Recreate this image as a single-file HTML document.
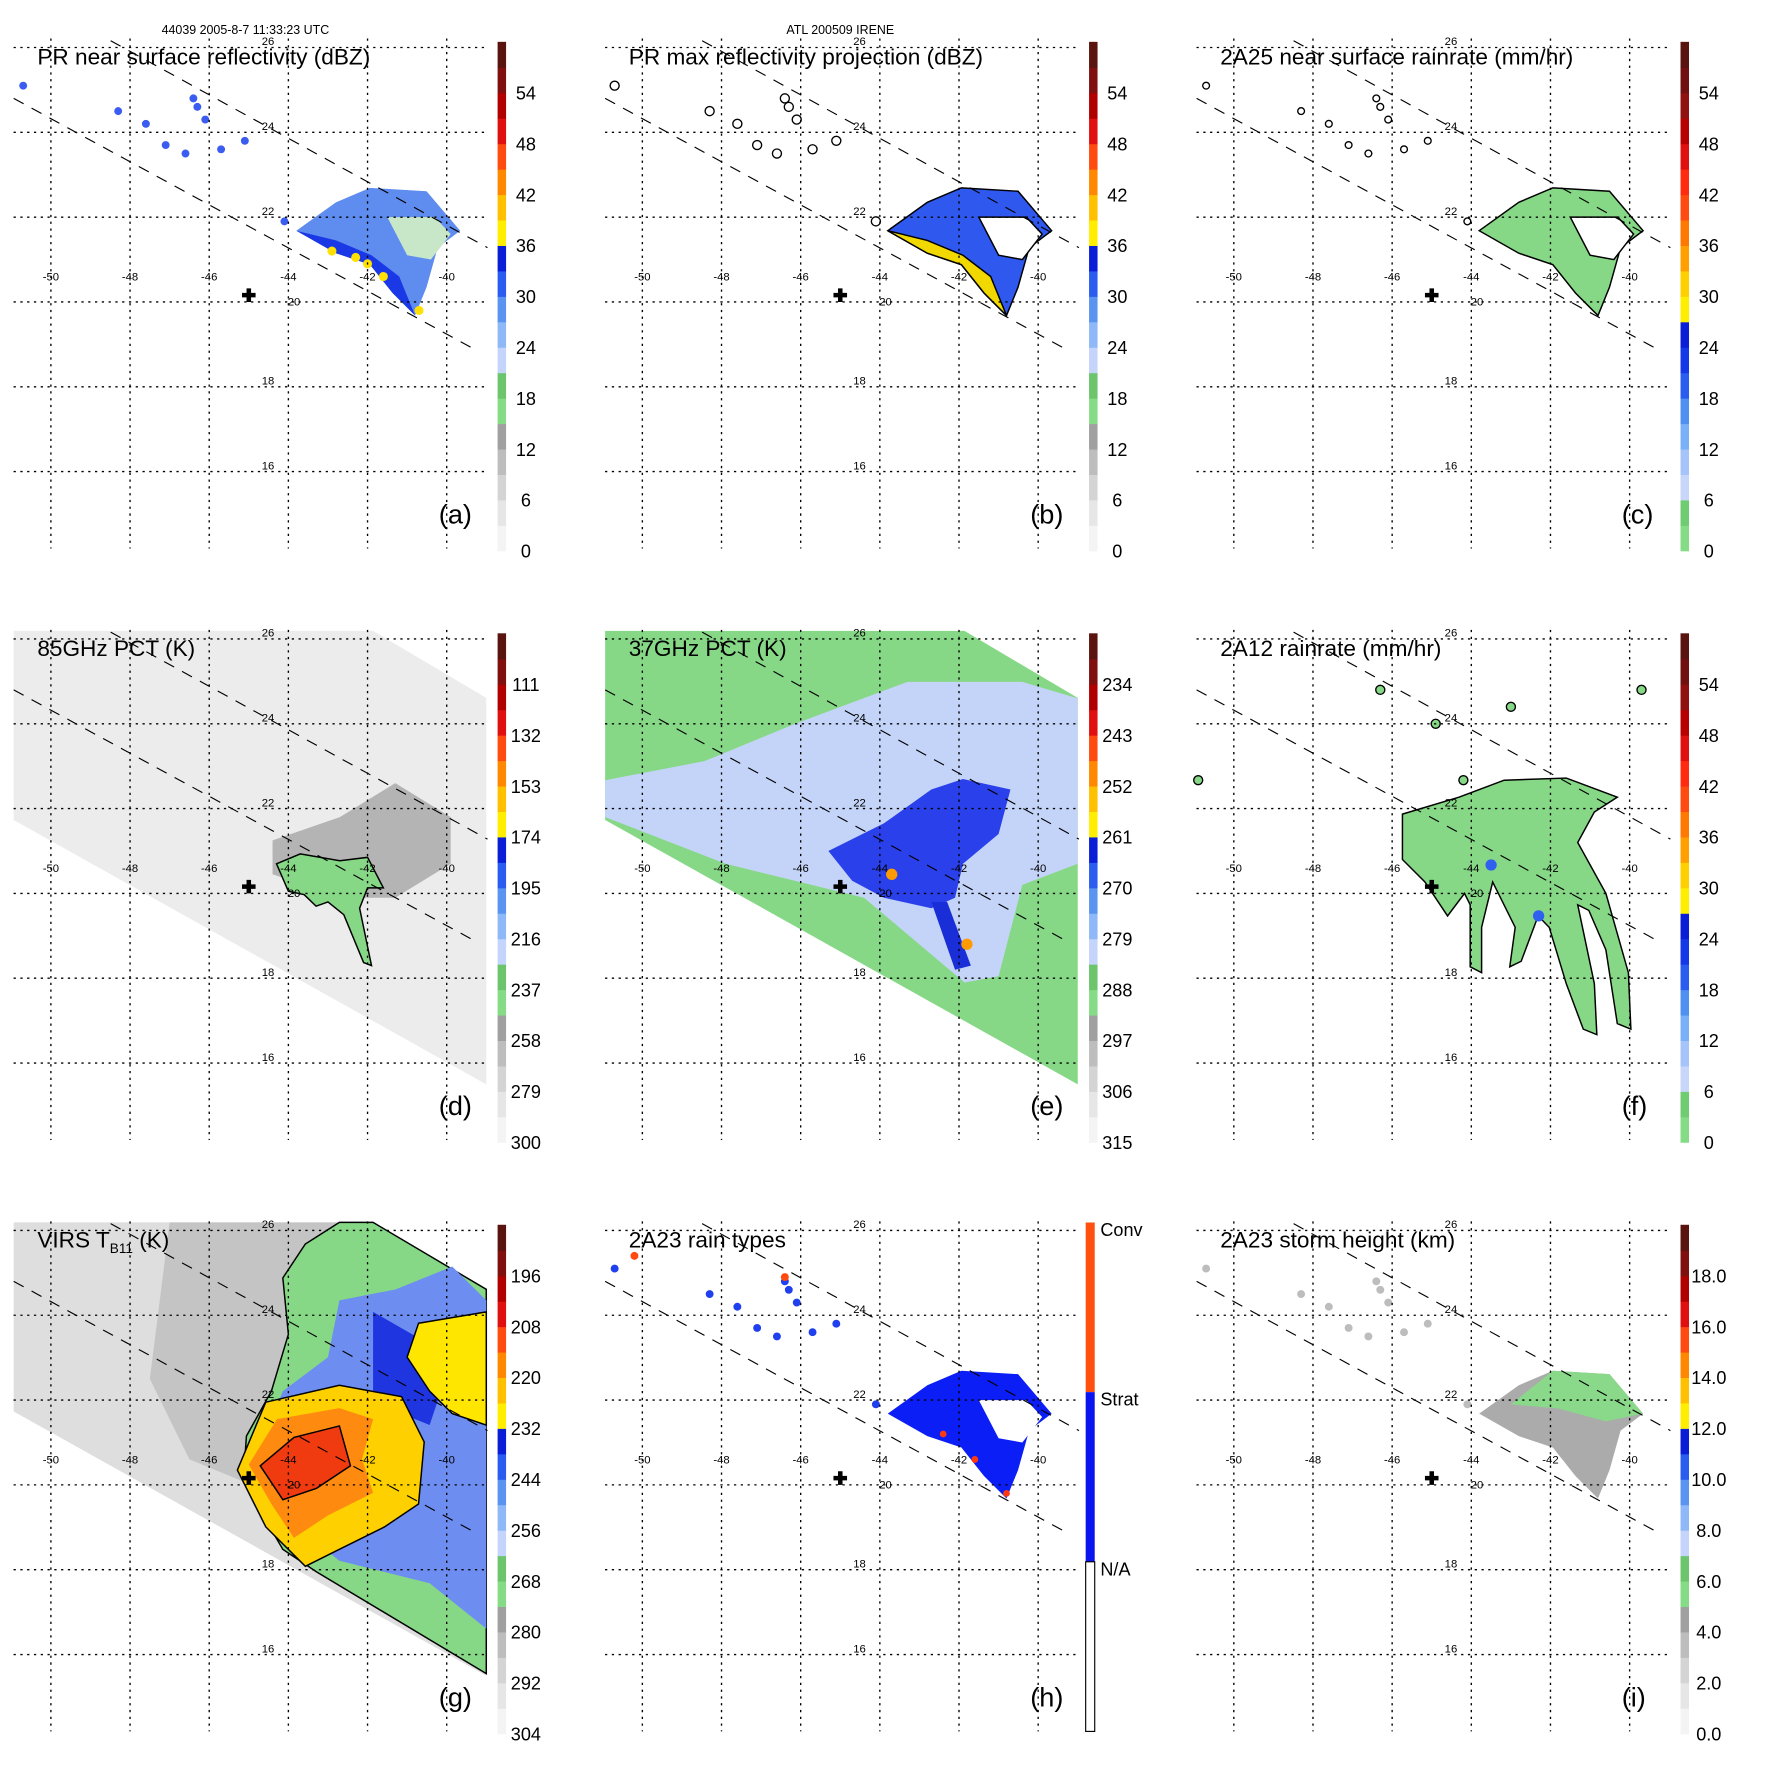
<!DOCTYPE html>
<html><head><meta charset="utf-8"><style>
html,body{margin:0;padding:0;background:#fff}
svg{display:block}
text{font-family:"Liberation Sans",sans-serif}
</style></head><body>
<svg id="fig" width="1771" height="1771" viewBox="0 0 1566 1566" xmlns="http://www.w3.org/2000/svg">
<rect width="1566" height="1566" fill="#fff"/>
<text x="217" y="30" font-size="11" text-anchor="middle">44039 2005-8-7 11:33:23 UTC</text>
<text x="743" y="30" font-size="11" text-anchor="middle">ATL 200509 IRENE</text>
</svg>
<script>
const lonTicks=[-50,-48,-46,-44,-42,-40];
const latTicks=[26,24,22,20,18,16];
const titles=["PR near surface reflectivity (dBZ)","PR max reflectivity projection (dBZ)","2A25 near surface rainrate (mm/hr)","85GHz PCT (K)","37GHz PCT (K)","2A12 rainrate (mm/hr)","VIRS T","2A23 rain types","2A23 storm height (km)"];
const letters=["(a)","(b)","(c)","(d)","(e)","(f)","(g)","(h)","(i)"];
const cbLabels=[
["0","6","12","18","24","30","36","42","48","54"],
["0","6","12","18","24","30","36","42","48","54"],
["0","6","12","18","24","30","36","42","48","54"],
["300","279","258","237","216","195","174","153","132","111"],
["315","306","297","288","279","270","261","252","243","234"],
["0","6","12","18","24","30","36","42","48","54"],
["304","292","280","268","256","244","232","220","208","196"],
null,
["0.0","2.0","4.0","6.0","8.0","10.0","12.0","14.0","16.0","18.0"]];
const stormCenter=[-45,20.16];
const swathUpper=[[-48.49,26.16],[-38.97,21.28]];
const swathLower=[[-50.94,24.8],[-39.23,18.85]];
const tmiSwath=[[-50.94,26.19],[-41.86,26.19],[-39,24.61],[-39,15.5],[-50.94,21.73]];
const blobPR=[[-43.8,21.68],[-42.8,22.35],[-41.94,22.69],[-40.51,22.61],[-39.66,21.68],[-40.23,21.28],[-40.51,20.35],[-40.8,19.68],[-41.37,20.21],[-41.94,20.88],[-42.8,21.15]];
const bandPR=[[-43.8,21.68],[-42.8,21.45],[-41.9,21.1],[-41.2,20.6],[-40.8,19.68],[-41.37,20.21],[-41.94,20.88],[-42.8,21.15]];
const holePR=[[-41.5,22.0],[-40.3,22.0],[-39.9,21.6],[-40.4,21.0],[-41.0,21.1]];
const spotsPR=[[-50.7,25.1],[-48.3,24.5],[-46.4,24.8],[-46.1,24.3],[-46.6,23.5],[-45.1,23.8],[-47.1,23.7],[-44.1,21.9],[-47.6,24.2],[-45.7,23.6],[-46.3,24.6]];
const yellowPR=[[-42.9,21.2],[-42.3,21.05],[-41.6,20.6],[-40.7,19.8],[-42.0,20.9]];
const cloud85=[[-44.4,21.25],[-42.7,21.8],[-41.3,22.6],[-39.9,21.8],[-39.9,20.7],[-41.3,19.9],[-42.7,19.9],[-44.4,20.45]];
const core85=[[-44.3,20.7],[-43.7,20.93],[-42.7,20.77],[-42.0,20.85],[-41.6,20.13],[-42.0,20.13],[-42.2,19.65],[-41.9,18.3],[-42.1,18.37],[-42.6,19.5],[-43.0,19.8],[-43.3,19.7],[-43.6,19.97],[-44.0,20.05]];
const light37=[[-50.94,22.67],[-48.43,23.12],[-46.14,24.0],[-43.3,24.99],[-40.4,24.99],[-39,24.6],[-39,20.7],[-40.4,20.2],[-41.0,18.05],[-41.86,17.9],[-44.4,19.9],[-47.9,20.7],[-50.94,21.8]];
const core37=[[-45.3,21.0],[-43.9,21.65],[-42.7,22.45],[-41.9,22.7],[-40.7,22.45],[-41.0,21.4],[-41.9,20.7],[-42.1,19.9],[-42.7,19.65],[-43.9,19.9],[-44.7,20.3]];
const streak37=[[-42.7,19.8],[-42.3,19.8],[-41.7,18.3],[-42.1,18.2]];
const rain12=[[-45.74,21.87],[-44.31,22.27],[-43.17,22.67],[-41.6,22.72],[-40.31,22.27],[-40.89,21.92],[-41.31,21.2],[-40.6,20.0],[-40.03,18.13],[-39.97,16.8],[-40.31,16.93],[-40.6,18.67],[-41.03,19.6],[-41.31,19.73],[-40.89,17.87],[-40.83,16.67],[-41.17,16.8],[-41.6,17.87],[-42.03,19.2],[-42.31,19.47],[-42.74,18.4],[-43.03,18.27],[-42.89,19.2],[-43.46,20.27],[-43.74,19.2],[-43.74,18.13],[-44.03,18.27],[-44.03,19.73],[-44.17,20.0],[-44.6,19.47],[-45.17,20.27],[-45.74,20.8]];
const spots12=[[-46.3,24.8],[-44.9,24.0],[-43.0,24.4],[-39.7,24.8],[-50.9,22.67],[-44.2,22.67]];
const virsCold=[[-42.71,26.19],[-41.86,26.19],[-39,24.61],[-39,15.55],[-43.29,17.95],[-44.14,18.48],[-45.14,20.08],[-45.06,21.15],[-44.43,22.21],[-44.0,23.55],[-44.14,24.88],[-43.57,25.68]];
const virsGrayDark=[[-47.0,26.19],[-42.71,26.19],[-43.57,25.68],[-44.14,24.88],[-44.0,23.55],[-44.43,22.21],[-45.06,21.15],[-45.14,20.08],[-46.5,20.6],[-47.5,22.5]];
const virsBlue=[[-42.71,24.35],[-41.29,24.61],[-39.86,25.15],[-39,24.35],[-39,16.61],[-40.43,17.68],[-42.71,18.21],[-44.14,19.28],[-44.71,20.88],[-44.14,22.21],[-43.0,23.01]];
const virsDeep=[[-41.86,24.08],[-39.86,23.01],[-40.43,21.41],[-41.86,21.95]];
const virsYellowNE=[[-40.71,23.81],[-39,24.08],[-39,21.41],[-39.86,21.68],[-40.43,22.21],[-41.0,23.01]];
const virsYellow=[[-45.29,20.35],[-44.57,21.95],[-42.71,22.35],[-41.14,22.08],[-40.57,21.01],[-40.71,19.55],[-41.57,19.01],[-42.71,18.48],[-43.57,18.08],[-44.57,19.01]];
const virsOrange=[[-45.0,20.48],[-44.29,21.55],[-42.71,21.81],[-41.86,21.55],[-42.14,20.61],[-41.86,19.81],[-43.0,19.28],[-43.86,18.75],[-44.43,19.55]];
const virsRed=[[-44.71,20.45],[-43.86,21.12],[-42.71,21.39],[-42.43,20.45],[-43.29,19.92],[-44.14,19.65]];
const heightGreen=[[-43.0,21.9],[-41.94,22.69],[-40.51,22.61],[-39.66,21.68],[-40.6,21.5],[-41.8,21.8]];
const colorsRefl=["#f4f4f4","#e6e6e6","#d4d4d4","#bdbdbd","#a0a0a0","#86dc86","#6cc46c","#c4d4fa","#8fb8f8","#5a94f0","#2a5cf0","#0a1ed8","#ffee00","#ffc000","#ff8800","#ff4a10","#e01010","#b00000","#801010","#5a1410"];
const colorsRain=["#86dc86","#70cc70","#c8d6fa","#a6c4fa","#7ab0f8","#4f90f0","#2a5cf0","#1438e8","#0a1ed8","#ffee00","#ffd000","#ffa000","#ff7800","#ff4a10","#ff2a10","#e01010","#b80000","#901010","#701010","#5a1410"];

const NS="http://www.w3.org/2000/svg";
const svg=document.getElementById('fig');
function mk(tag,attrs,parent){const e=document.createElementNS(NS,tag);for(const k in attrs)e.setAttribute(k,attrs[k]);(parent||svg).appendChild(e);return e;}
function X(o,lon){return o.x+45+(lon+50)*35;}
function Y(o,lat){return o.y+42+(26-lat)*37.5;}
function poly(o,pts,fill,stroke,name,g){const e=mk('polygon',{points:pts.map(p=>X(o,p[0]).toFixed(1)+','+Y(o,p[1]).toFixed(1)).join(' '),fill:fill,stroke:stroke||'none','stroke-width':1.3},g);


return e;}
function dots(o,arr,fill,stroke,r,name,g){arr.forEach(p=>{const c=mk('circle',{cx:X(o,p[0]),cy:Y(o,p[1]),r:r,fill:fill,stroke:stroke||'none','stroke-width':1.2},g);

});}

for(let p=0;p<9;p++){
 const o={x:(p%3)*523,y:Math.floor(p/3)*523};
 const g=mk('g',{});
 
 
 if(p===0){poly(o,blobPR,'#5f8cef',null,'reflectivity-area',g);poly(o,holePR,'#c8e6c8',null,'weak-echo-area',g);poly(o,bandPR,'#1a38e6',null,'strong-band',g);dots(o,yellowPR,'#ffe000',null,4,'high-reflectivity',g);dots(o,spotsPR,'#3a5cf0',null,3.5,'scattered-echo',g);}
 if(p===1){poly(o,blobPR,'#2f58ee','#000','max-reflectivity-area',g);poly(o,holePR,'#fff','#000','echo-free-hole',g);poly(o,bandPR,'#f0d800','#000','strong-band',g);dots(o,spotsPR,'#fff','#000',4,'scattered-echo',g);}
 if(p===2){poly(o,blobPR,'#86d886','#000','rainrate-area',g);poly(o,holePR,'#fff','#000','no-rain-hole',g);dots(o,spotsPR,'#fff','#000',3,'scattered-rain',g);}
 if(p===3){poly(o,tmiSwath,'#ececec',null,'tmi-swath',g);poly(o,cloud85,'#b4b4b4',null,'scattering-cloud',g);poly(o,core85,'#86d886','#000','convective-core',g);}
 if(p===4){poly(o,tmiSwath,'#86d886',null,'tmi-swath',g);poly(o,light37,'#c4d4f8',null,'light-scattering',g);poly(o,core37,'#2a40ea',null,'scattering-core',g);poly(o,streak37,'#1a2ed8',null,'rainband-streak',g);dots(o,[[-43.7,20.45],[-41.8,18.8]],'#ff9a00',null,5,'strong-scattering',g);}
 if(p===5){poly(o,rain12,'#86d886','#000','tmi-rain-area',g);dots(o,spots12,'#86d886','#000',4,'rain-patch',g);dots(o,[[-43.5,20.67],[-42.3,19.47]],'#3060f0',null,5,'heavy-rain',g);}
 if(p===6){poly(o,tmiSwath,'#dedede',null,'virs-swath',g);poly(o,virsGrayDark,'#c4c4c4',null,'mid-cloud',g);poly(o,virsCold,'#86d886','#000','cloud-shield',g);poly(o,virsBlue,'#6d8ef0',null,'cold-cloud',g);poly(o,virsDeep,'#1f35e0',null,'colder-cloud',g);poly(o,virsYellowNE,'#ffe600','#000','cold-top-ne',g);poly(o,virsYellow,'#ffd000','#000','cold-top',g);poly(o,virsOrange,'#ff8a10',null,'very-cold-top',g);poly(o,virsRed,'#f03a10','#000','coldest-top',g);}
 if(p===7){poly(o,blobPR,'#0a1ef5',null,'stratiform-area',g);poly(o,holePR,'#fff',null,'no-rain-hole',g);dots(o,[[-42.4,21.2],[-41.6,20.6],[-40.8,19.8]],'#ff3a10',null,3,'convective-pixel',g);dots(o,spotsPR,'#2040f0',null,3.5,'stratiform-spot',g);dots(o,[[-46.4,24.9],[-50.2,25.4]],'#ff4a10',null,3.5,'convective-spot',g);}
 if(p===8){poly(o,blobPR,'#ababab',null,'storm-height-area',g);poly(o,heightGreen,'#8ad88a',null,'taller-echo',g);dots(o,spotsPR,'#bdbdbd',null,3.5,'scattered-height',g);}
 latTicks.forEach(la=>{const l=mk('line',{x1:o.x+12,x2:o.x+431,y1:Y(o,la),y2:Y(o,la),stroke:'#000','stroke-width':1.2,'stroke-dasharray':'2,4'},g);
  
  });
 lonTicks.forEach(lo=>{const l=mk('line',{x1:X(o,lo),x2:X(o,lo),y1:o.y+34,y2:o.y+485,stroke:'#000','stroke-width':1.2,'stroke-dasharray':'2,4'},g);
  
  });
 [swathUpper,swathLower].forEach(s=>{const l=mk('line',{x1:X(o,s[0][0]),y1:Y(o,s[0][1]),x2:X(o,s[1][0]),y2:Y(o,s[1][1]),stroke:'#000','stroke-width':1,'stroke-dasharray':'10,8'},g);
  
  });
 lonTicks.forEach(lo=>{const t=mk('text',{x:X(o,lo),y:o.y+248,'font-size':10,'text-anchor':'middle'},g);t.textContent=String(lo);
  
  });
 latTicks.forEach(la=>{const t=mk('text',{x:o.x+(la===20?260:237),y:Y(o,la)-(la===20?-3:2),'font-size':10,'text-anchor':'middle'},g);t.textContent=String(la);
  
  });
 const cx=X(o,stormCenter[0]),cy=Y(o,stormCenter[1]);
 const cr=mk('path',{d:`M${cx-6} ${cy-2}h4v-4h4v4h4v4h-4v4h-4v-4h-4z`,fill:'#000'},g);
 
 
 const tt=mk('text',{x:o.x+33,y:o.y+57,'font-size':20},g);tt.textContent=titles[p];
 
 
 if(p===6){const s=mk('tspan',{'font-size':12,dy:5},tt);s.textContent='B11';const s2=mk('tspan',{dy:-5},tt);s2.textContent=' (K)';}
 const lt=mk('text',{x:o.x+388,y:o.y+463,'font-size':24},g);lt.textContent=letters[p];
 
 
 const cb=mk('g',{},g);
 
 
 if(p===7){
  const segs=[['#ff5010',35],['#0a14f0',185],['#fff',335]];
  segs.forEach(s=>{const r=mk('rect',{x:o.x+437,y:o.y+s[1],width:8,height:150,fill:s[0],stroke:s[0]==='#fff'?'#000':'none'},cb);
   
   });
  [['Conv',42],['Strat',192],['N/A',342]].forEach(l=>{const t=mk('text',{x:o.x+450,y:o.y+l[1]+5,'font-size':16},cb);t.textContent=l[0];
   
   });
 } else {
  const cols=(p===2||p===5)?colorsRain:colorsRefl;
  const h=450/cols.length;
  cols.forEach((c,i)=>{const r=mk('rect',{x:o.x+440,y:o.y+487-(i+1)*h,width:7.5,height:h+0.5,fill:c},cb);
   
   });
  cbLabels[p].forEach((l,i)=>{const t=mk('text',{x:o.x+465,y:o.y+487-i*45+6,'font-size':16,'text-anchor':'middle'},cb);t.textContent=l;
   
   });
 }
}
</script>
</body></html>
